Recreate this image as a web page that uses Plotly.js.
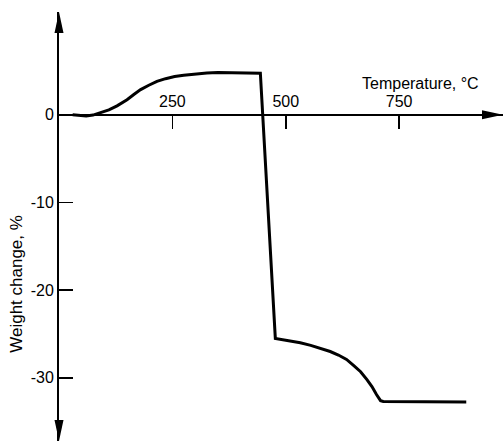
<!DOCTYPE html>
<html>
<head>
<meta charset="utf-8">
<script src="https://cdn.plot.ly/plotly-3.0.1.min.js"></script>
<style>html,body{margin:0;padding:0;background:#fff;}#chart{width:503px;height:443px;}</style>
</head>
<body>
<div id="chart"></div>
<script>
// Data (temperature in °C, weight change in %)
const temperature = [30, 45, 60, 75, 91, 110, 128, 140, 150, 165, 180, 198, 216, 235, 255, 275, 300, 326, 350, 380, 410, 444,
                     477, 488, 510, 532, 555, 575, 598, 616, 634, 650, 665, 679, 690, 700, 709, 715, 800, 898];
const weightChange = [0, -0.1, -0.15, -0.05, 0.2, 0.55, 1.0, 1.35, 1.7, 2.3, 2.85, 3.35, 3.8, 4.1, 4.35, 4.5, 4.65, 4.75, 4.8, 4.8, 4.78, 4.72,
                      -25.5, -25.6, -25.75, -26.0, -26.3, -26.6, -27.0, -27.4, -27.9, -28.6, -29.3, -30.2, -31.0, -31.9, -32.6, -32.7, -32.7, -32.75];

const xTickVals = [250, 500, 750];
const xTickText = ['250', '500', '750'];
const yTickVals = [0, -10, -20, -30];
const yTickText = ['0', '-10', '-20', '-30'];

const xRange = [0, 979];
const yRange = [-37.2, 11.7];

const FONT = 'Liberation Sans, Arial, sans-serif';
const W = 503, H = 443;
const M = {l: 59, r: 0, t: 12, b: 2};
const plotW = W - M.l - M.r, plotH = H - M.t - M.b;
const xAxisPos = (0 - yRange[0]) / (yRange[1] - yRange[0]);

// arrowhead geometry in pixels converted to paper fractions
const ahL = 21, ahW = 4.5;
const pxX = v => v / plotW, pxY = v => v / plotH;
const upArrow = `M0,1 L${-pxX(ahW)},${1 - pxY(ahL)} L${pxX(ahW)},${1 - pxY(ahL)} Z`;
const downArrow = `M0,0 L${-pxX(ahW)},${pxY(ahL)} L${pxX(ahW)},${pxY(ahL)} Z`;
const rightArrow = `M1,${xAxisPos} L${1 - pxX(ahL)},${xAxisPos + pxY(ahW)} L${1 - pxX(ahL)},${xAxisPos - pxY(ahW)} Z`;

const trace = {
  x: temperature,
  y: weightChange,
  type: 'scatter',
  mode: 'lines',
  line: {color: '#000', width: 3},
  hoverinfo: 'skip'
};

const layout = {
  width: W,
  height: H,
  margin: M,
  paper_bgcolor: '#fff',
  plot_bgcolor: '#fff',
  showlegend: false,
  font: {family: FONT, size: 16, color: '#000'},
  xaxis: {
    range: xRange,
    anchor: 'free',
    position: xAxisPos,
    side: 'top',
    showline: true,
    linecolor: '#000',
    linewidth: 2,
    ticks: 'inside',
    ticklen: 13,
    tickwidth: 1.5,
    tickcolor: '#000',
    tickvals: xTickVals,
    ticktext: xTickText,
    tickfont: {family: FONT, size: 16, color: '#000'},
    showgrid: false,
    zeroline: false
  },
  yaxis: {
    range: yRange,
    side: 'left',
    showline: true,
    linecolor: '#000',
    linewidth: 2,
    ticks: 'inside',
    ticklen: 14,
    tickwidth: 1.5,
    tickcolor: '#000',
    tickvals: yTickVals,
    ticktext: yTickText,
    tickfont: {family: FONT, size: 16, color: '#000'},
    showgrid: false,
    zeroline: false
  },
  annotations: [
    {
      text: 'Weight change, %',
      textangle: -90,
      xref: 'paper', x: -0.095, xanchor: 'center',
      yref: 'y', y: -19.3, yanchor: 'middle',
      showarrow: false,
      font: {family: FONT, size: 17, color: '#000'}
    },
    {
      text: 'Temperature, °C',
      xref: 'x', x: 797, xanchor: 'center',
      yref: 'y', y: 3.6, yanchor: 'middle',
      showarrow: false,
      font: {family: FONT, size: 16, color: '#000'}
    }
  ],
  shapes: [
    {type: 'path', xref: 'paper', yref: 'paper', path: upArrow, fillcolor: '#000', line: {width: 0}},
    {type: 'path', xref: 'paper', yref: 'paper', path: downArrow, fillcolor: '#000', line: {width: 0}},
    {type: 'path', xref: 'paper', yref: 'paper', path: rightArrow, fillcolor: '#000', line: {width: 0}}
  ]
};

Plotly.newPlot('chart', [trace], layout, {displayModeBar: false, staticPlot: true});
</script>
</body>
</html>
